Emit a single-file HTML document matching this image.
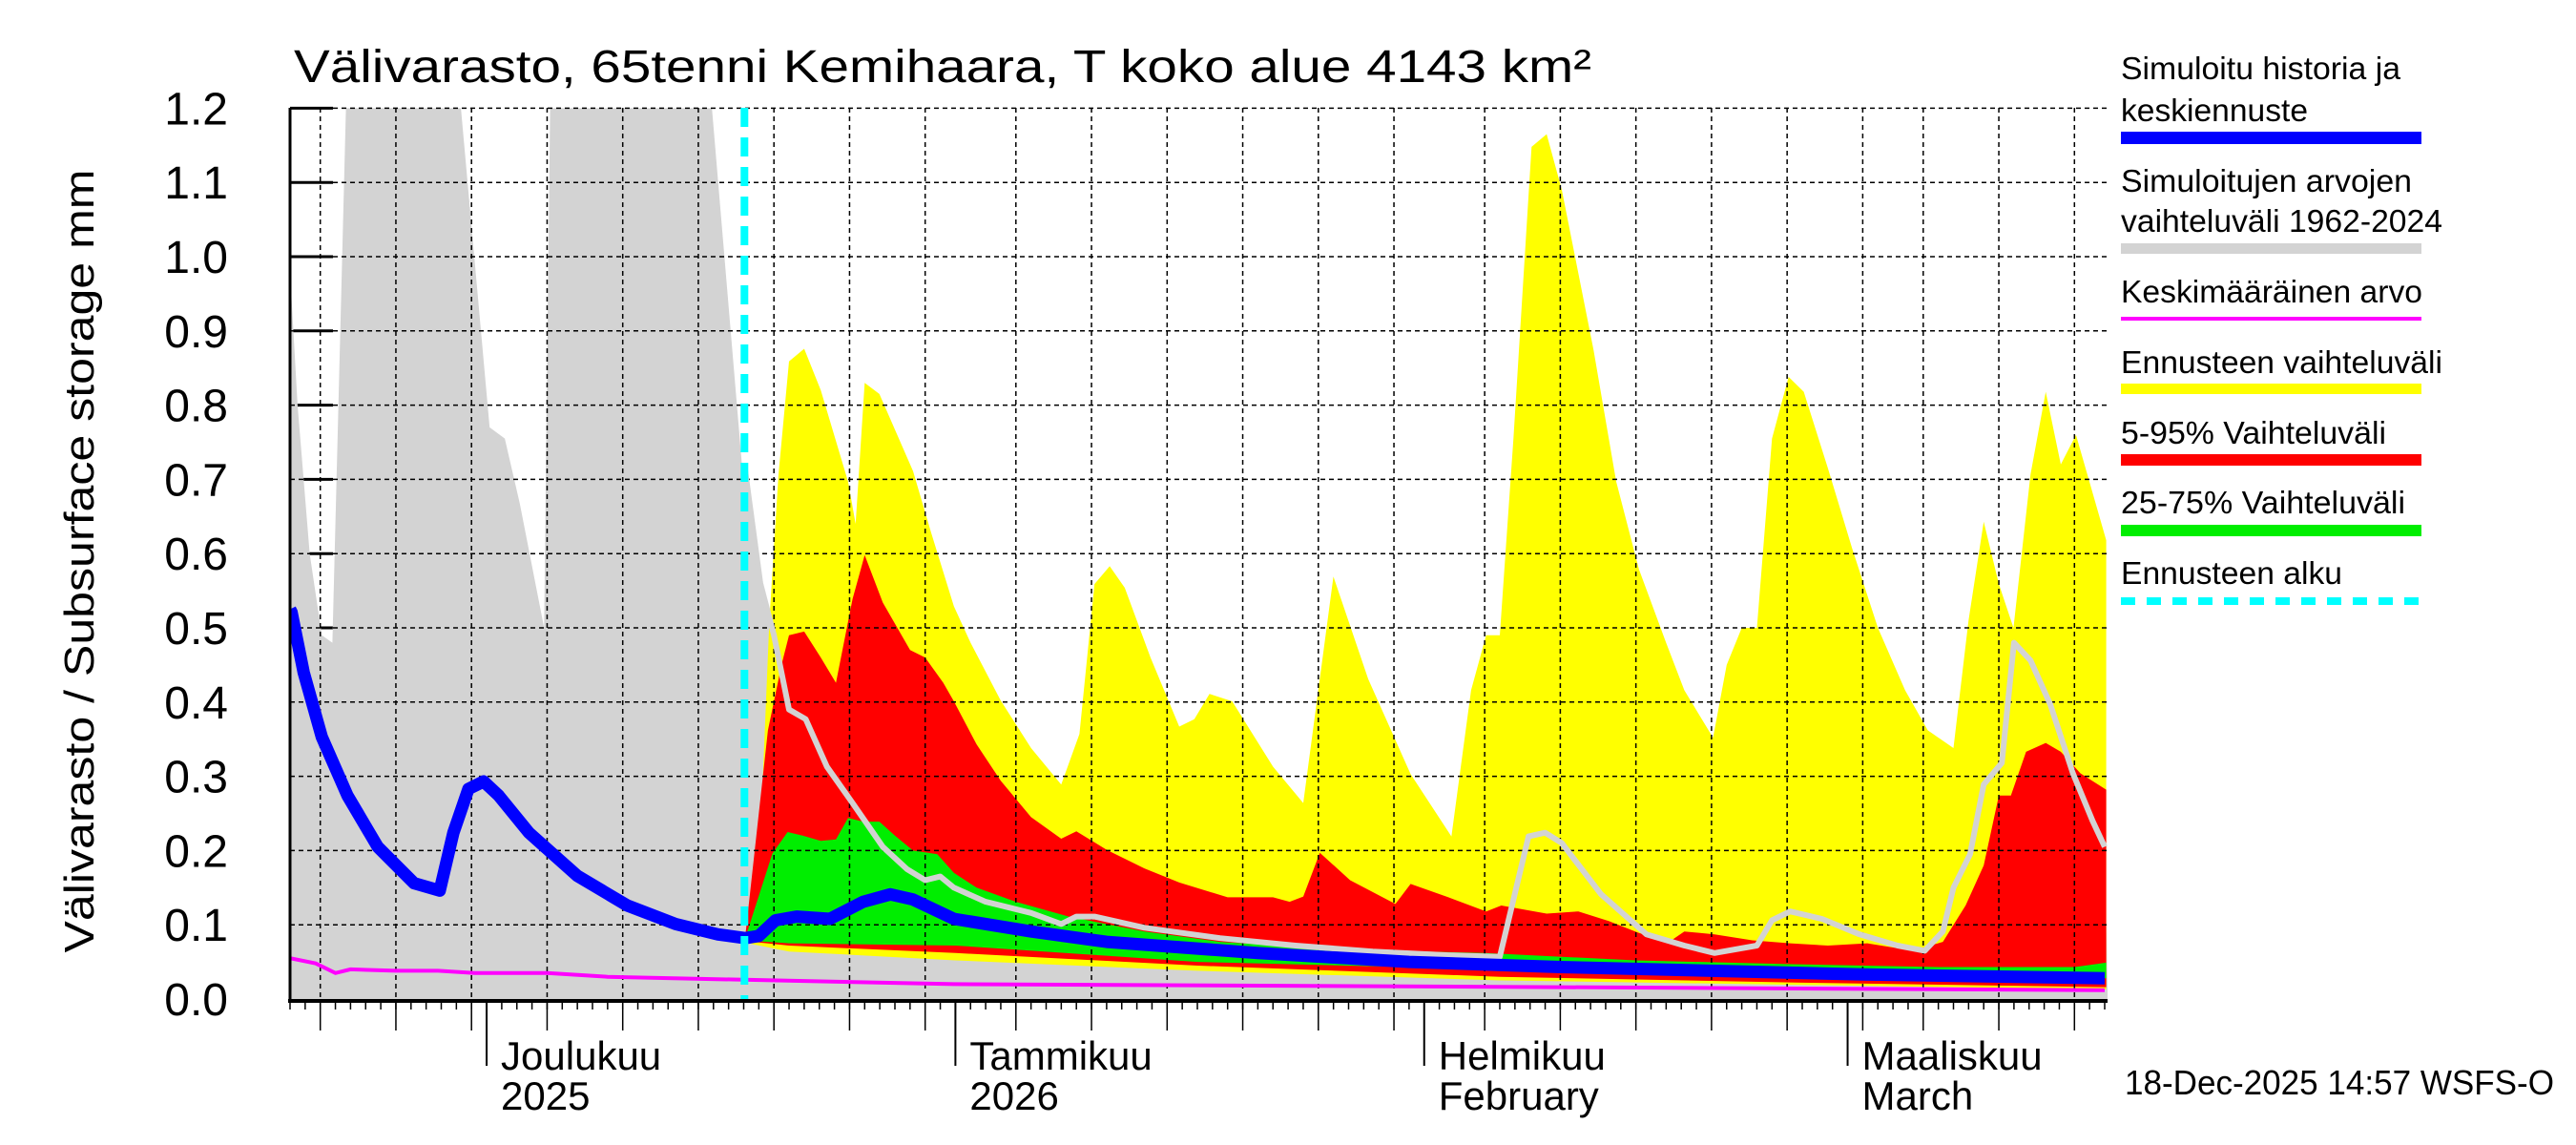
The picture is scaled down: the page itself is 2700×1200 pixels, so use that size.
<!DOCTYPE html>
<html><head><meta charset="utf-8">
<style>
html,body{margin:0;padding:0;background:#fff;}
svg{display:block;font-family:"Liberation Sans",Arial,sans-serif;}
</style></head>
<body>
<svg id="chart" width="2700" height="1200" viewBox="0 0 2700 1200" xmlns="http://www.w3.org/2000/svg">
<defs><clipPath id="plotclip"><rect x="304" y="113" width="1905" height="936"/></clipPath></defs>
<rect width="2700" height="1200" fill="#fff"/>
<text x="308" y="86" font-size="48" textLength="1360" lengthAdjust="spacingAndGlyphs">Välivarasto, 65tenni Kemihaara, T koko alue 4143 km²</text>
<text transform="translate(98,588) rotate(-90)" text-anchor="middle" font-size="44" textLength="821" lengthAdjust="spacingAndGlyphs">Välivarasto / Subsurface storage  mm</text>
<g id="ticks-under"></g>
<g id="fills" clip-path="url(#plotclip)"></g>
<g id="grid"></g>
<g id="lines" clip-path="url(#plotclip)"></g>
<g id="axes"></g>
<g id="legend">
 <text x="2223" y="83" font-size="33" textLength="293" lengthAdjust="spacingAndGlyphs">Simuloitu historia ja</text>
 <text x="2223" y="127" font-size="33" textLength="196" lengthAdjust="spacingAndGlyphs">keskiennuste</text>
 <rect x="2223" y="138" width="315" height="13" fill="#0000ff"/>
 <text x="2223" y="201" font-size="33" textLength="305" lengthAdjust="spacingAndGlyphs">Simuloitujen arvojen</text>
 <text x="2223" y="243" font-size="33" textLength="337" lengthAdjust="spacingAndGlyphs">vaihteluväli 1962-2024</text>
 <rect x="2223" y="255" width="315" height="11" fill="#d3d3d3"/>
 <text x="2223" y="317" font-size="33" textLength="316" lengthAdjust="spacingAndGlyphs">Keskimääräinen arvo</text>
 <rect x="2223" y="332" width="315" height="4" fill="#ff00ff"/>
 <text x="2223" y="391" font-size="33" textLength="337" lengthAdjust="spacingAndGlyphs">Ennusteen vaihteluväli</text>
 <rect x="2223" y="402" width="315" height="11" fill="#ffff00"/>
 <text x="2223" y="465" font-size="33" textLength="278" lengthAdjust="spacingAndGlyphs">5-95% Vaihteluväli</text>
 <rect x="2223" y="476" width="315" height="12" fill="#ff0000"/>
 <text x="2223" y="538" font-size="33" textLength="298" lengthAdjust="spacingAndGlyphs">25-75% Vaihteluväli</text>
 <rect x="2223" y="550" width="315" height="12" fill="#00ee00"/>
 <text x="2223" y="612" font-size="33" textLength="232" lengthAdjust="spacingAndGlyphs">Ennusteen alku</text>
 <line x1="2223" y1="630" x2="2538" y2="630" stroke="#00ffff" stroke-width="8" stroke-dasharray="15 12"/>
</g>
<text x="2227" y="1147" font-size="36" textLength="450" lengthAdjust="spacingAndGlyphs">18-Dec-2025 14:57 WSFS-O</text>
</svg>
<script>
// ---- data (day index: 0 = 18 Nov 2025) ----
const grayDays = [0,0.5,1.3,2.1,2.8,3.7,11.3,13.2,14.2,15.2,16.8,17.2,27.9,29.9,30.07,31.1,32,33,34.1,35.5,37.2,39.2,40.8,42,43,43.9,46,49,51,52,53.2,56.5,61.5,66.5,71.6,76.6,80,81.9,83,84.1,86.7,89.7,92.2,94.2,97,98,99.2,101.3,103.8,106.3,108.1,109.3,110,111.1,112,113.2,114,115.1,116.4,117.9,119.2,120];
const grayUpper = [0.98,0.8,0.6,0.49,0.48,1.2,1.2,0.77,0.755,0.667,0.5,1.2,1.2,0.716,0.716,0.56,0.49,0.39,0.377,0.313,0.264,0.205,0.175,0.16,0.165,0.15,0.131,0.116,0.101,0.111,0.111,0.096,0.082,0.072,0.064,0.059,0.057,0.219,0.224,0.21,0.141,0.087,0.072,0.062,0.072,0.106,0.118,0.108,0.087,0.072,0.065,0.091,0.15,0.195,0.289,0.318,0.48,0.456,0.397,0.304,0.24,0.205];

const yelDays = [30.07,31.1,31.7,32.3,33,34,35.1,36.9,37.4,38,38.97,41.2,42.4,43.9,45,47,49,51,52.2,53.2,54.2,55.2,56.9,58.8,59.8,60.8,62.3,65,67,69,71.3,74.1,76.8,78.1,79.1,80,80.9,82.1,83.1,84.1,86.2,87.7,89.2,91,92.2,94.1,95,96,97,98,99.1,100.1,101.7,103.3,105,106.8,108.3,110,111,112,113,113.97,115.1,116.1,117.1,118.1,120.1];
const yelUpper = [0.08,0.215,0.51,0.707,0.859,0.876,0.82,0.697,0.64,0.83,0.815,0.711,0.628,0.529,0.48,0.402,0.338,0.289,0.357,0.559,0.583,0.554,0.46,0.367,0.377,0.411,0.401,0.313,0.264,0.569,0.431,0.303,0.219,0.416,0.49,0.49,0.755,1.148,1.165,1.09,0.874,0.697,0.579,0.48,0.416,0.352,0.45,0.5,0.5,0.755,0.838,0.818,0.715,0.607,0.5,0.416,0.362,0.338,0.51,0.643,0.559,0.5,0.707,0.818,0.72,0.76,0.618];

const redDays = [30.07,31.6,32.5,33,34,35.1,36.1,37.2,38,39.2,41,42,43.2,43.9,45.4,47,49,51,52,54,56.5,58.8,62,65,66.1,67,68.1,70.1,73.1,74.1,76.6,79.1,80.1,83.1,85.2,87.2,89.2,91.2,92.2,94.2,96.7,99.2,101.7,104.3,107.3,109.3,110.8,112,113,113.8,114.8,116.1,117.1,118.4,120.1];
const redUpper = [0.078,0.362,0.45,0.49,0.495,0.46,0.426,0.539,0.598,0.534,0.47,0.46,0.426,0.401,0.343,0.294,0.245,0.216,0.226,0.201,0.176,0.157,0.137,0.137,0.131,0.138,0.197,0.16,0.128,0.155,0.137,0.118,0.126,0.115,0.118,0.105,0.089,0.077,0.091,0.087,0.079,0.075,0.072,0.075,0.065,0.077,0.126,0.18,0.274,0.274,0.333,0.345,0.333,0.304,0.282];

const lowDays = [30.07,33,44,60,80,100,120.1];
const redLower = [0.078,0.072,0.062,0.045,0.03,0.022,0.016];
const yelLower = [0.076,0.064,0.052,0.038,0.025,0.019,0.013];

const greenDays = [30.07,31.9,32.9,33.9,35.1,36.1,36.9,37.9,38.97,40,41.2,42.8,43.9,45.4,48,51.5,56.5,61.5,69,79,89,99,109,118,120.1];
const greenUpper = [0.08,0.196,0.225,0.22,0.213,0.215,0.244,0.239,0.239,0.22,0.2,0.195,0.17,0.15,0.131,0.111,0.091,0.077,0.067,0.062,0.052,0.047,0.043,0.043,0.049];
const greenLowDays = [30.07,33,44,60,80,100,120.1];
const greenLower = [0.079,0.075,0.072,0.05,0.04,0.032,0.028];

const blueDays = [0,0.1,0.9,2.1,3.8,5.8,8.2,9.9,10.8,11.8,12.8,13.8,15.8,19,22.3,25.5,28.3,30.1,31,32.1,33.5,35.7,37.9,39.7,41.2,43.9,49,54,64,74,84,94,104,120];
const blueVals = [0.525,0.521,0.44,0.353,0.274,0.205,0.156,0.146,0.224,0.283,0.293,0.274,0.224,0.166,0.126,0.101,0.087,0.082,0.085,0.106,0.111,0.108,0.131,0.141,0.134,0.108,0.091,0.077,0.062,0.05,0.043,0.038,0.033,0.028];

const meanDays = [0,1.7,3,4,7,9.8,12.2,17,21,30,43.9,84,120];
const meanVals = [0.055,0.048,0.035,0.04,0.038,0.038,0.035,0.035,0.03,0.026,0.02,0.016,0.012];

const yTicks = [0,0.1,0.2,0.3,0.4,0.5,0.6,0.7,0.8,0.9,1.0,1.1,1.2];
const yTickLabels = ["0.0","0.1","0.2","0.3","0.4","0.5","0.6","0.7","0.8","0.9","1.0","1.1","1.2"];
const monthDays = [13,44,75,103];
const monthLabels = ["Joulukuu","Tammikuu","Helmikuu","Maaliskuu"];
const monthLabels2 = ["2025","2026","February","March"];
const forecastDay = 30.05;

// ---- scales ----
const X0 = 304, DAYPX = 15.85, Y0 = 1047, VPX = 778;
const xs = d => X0 + DAYPX * d;
const ys = v => Y0 - VPX * v;
const NS = "http://www.w3.org/2000/svg";
function mk(tag, attrs, parent){ const e=document.createElementNS(NS,tag); for(const k in attrs) e.setAttribute(k,attrs[k]); parent.appendChild(e); return e; }
function pts(days, vals){ return days.map((d,i)=>xs(d).toFixed(1)+","+ys(vals[i]).toFixed(1)); }
function band(daysU, up, daysL, lo){ const a=pts(daysU,up); const b=pts(daysL,lo).reverse(); return a.concat(b).join(" "); }

const fills=document.getElementById('fills'), grid=document.getElementById('grid'), lines=document.getElementById('lines'), axes=document.getElementById('axes'), under=document.getElementById('ticks-under');

yTicks.forEach(v=>{
  const t=mk('line',{x1:304,x2:349,y1:ys(v),y2:ys(v),stroke:'#000','stroke-width':3},under);
  
  
});

const g=mk('polygon',{points: band(grayDays,grayUpper,[0,120.2],[0,0]), fill:'#d3d3d3'},fills);


const yb=mk('polygon',{points: band(yelDays,yelUpper,lowDays,yelLower), fill:'#ffff00'},fills);


const rb=mk('polygon',{points: band(redDays,redUpper,lowDays,redLower), fill:'#ff0000'},fills);


const gb=mk('polygon',{points: band(greenDays,greenUpper,greenLowDays,greenLower), fill:'#00ee00'},fills);



const gridDays=[2,7,12,17,22,27,32,37,42,48,53,58,63,68,73,79,84,89,94,99,104,108,113,118];
gridDays.forEach(d=>{
  const l=mk('line',{x1:xs(d),x2:xs(d),y1:113,y2:1047,stroke:'#000','stroke-width':1.5,'stroke-dasharray':'5 4'},grid);
  
  
});
yTicks.slice(1).forEach(v=>{
  const l=mk('line',{x1:304,x2:2209,y1:ys(v),y2:ys(v),stroke:'#000','stroke-width':1.5,'stroke-dasharray':'5 4'},grid);
  
  
});

const gi = grayDays.indexOf(30.07);
const gl=mk('polyline',{points: pts(grayDays.slice(gi),grayUpper.slice(gi)).join(" "), fill:'none', stroke:'#d3d3d3','stroke-width':6,'stroke-linejoin':'round'},lines);


const ml=mk('polyline',{points: pts(meanDays,meanVals).join(" "), fill:'none', stroke:'#ff00ff','stroke-width':4},lines);


const bl=mk('polyline',{points: pts(blueDays,blueVals).join(" "), fill:'none', stroke:'#0000ff','stroke-width':13,'stroke-linejoin':'round'},lines);


const fl=mk('line',{x1:xs(forecastDay),x2:xs(forecastDay),y1:113,y2:1047,stroke:'#00ffff','stroke-width':8,'stroke-dasharray':'20 11'},lines);



const ya=mk('line',{x1:304,x2:304,y1:113,y2:1050,stroke:'#000','stroke-width':3},axes);


const xa=mk('line',{x1:302,x2:2209,y1:1049,y2:1049,stroke:'#000','stroke-width':4},axes);


yTicks.forEach((v,i)=>{
  const t=mk('text',{x:239,y:ys(v)+17,'text-anchor':'end','font-size':48},axes);
  t.textContent=yTickLabels[i];
  
  
});
for(let d=0; d<=120; d++){
  const t=mk('line',{x1:xs(d),x2:xs(d),y1:1049,y2:1058,stroke:'#000','stroke-width':1.5},axes);
  
  
}
gridDays.forEach(d=>{
  const t=mk('line',{x1:xs(d),x2:xs(d),y1:1049,y2:1080,stroke:'#000','stroke-width':1.5},axes);
  
  
});
monthDays.forEach((d,i)=>{
  const t=mk('line',{x1:xs(d),x2:xs(d),y1:1049,y2:1117,stroke:'#000','stroke-width':2},axes);
  
  
  const a=mk('text',{x:xs(d)+15,y:1121,'font-size':42},axes);
  a.textContent=monthLabels[i];
  
  
  const b=mk('text',{x:xs(d)+15,y:1163,'font-size':42},axes);
  b.textContent=monthLabels2[i];
  
  
});
</script>
</body></html>
